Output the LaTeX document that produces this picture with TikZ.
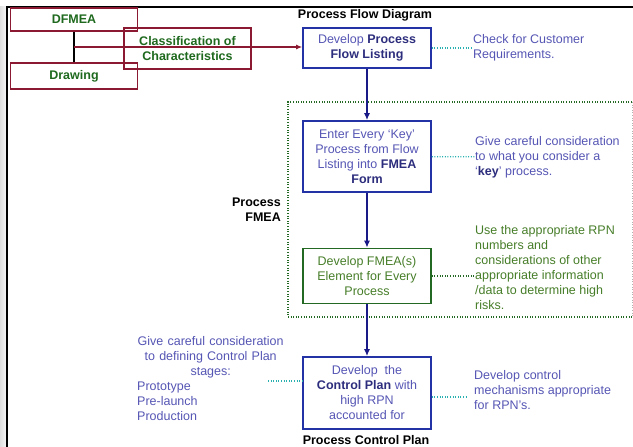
\documentclass[tikz,border=0pt]{standalone}
\usepackage{fontspec}
\setmainfont{Liberation Sans}
\usepackage{tikz}
\usetikzlibrary{positioning, calc}
\usetikzlibrary{arrows.meta}

\definecolor{frmred}{RGB}{140,25,50}
\definecolor{lblgreen}{RGB}{30,105,30}
\definecolor{boxblue}{RGB}{35,50,165}
\definecolor{txtblue}{RGB}{85,85,180}
\definecolor{boldblue}{RGB}{45,45,125}
\definecolor{dotteal}{RGB}{40,175,175}
\definecolor{boxgreen}{RGB}{35,105,35}
\definecolor{txtgreen}{RGB}{70,125,40}
\definecolor{arrblue}{RGB}{25,25,135}

\begin{document}
\begin{tikzpicture}[x=1pt,y=-1pt,
  every node/.style={font=\fontsize{12.5}{15}\selectfont, inner sep=0pt},
  redbox/.style={draw=frmred, line width=1.4pt, text=lblgreen, font=\fontsize{12.5}{15}\selectfont\bfseries, align=center, minimum width=127pt},
  flowbox/.style={draw=boxblue, line width=1.6pt, text=txtblue, align=center, minimum width=128pt},
  sidenote/.style={text=txtblue, align=left, anchor=west},
  headlbl/.style={font=\fontsize{12.5}{15}\selectfont\bfseries},
  flowarrow/.style={draw=arrblue, line width=1.6pt, -{Latex[length=7pt,width=6pt]}},
  tealdot/.style={draw=dotteal, line width=1.3pt, dash pattern=on 1pt off 1.6pt},
  greendot/.style={draw=boxgreen, line width=1.3pt, dash pattern=on 1pt off 1.6pt}]
    \useasboundingbox (0,0) rectangle (633,447);
    \fill[left color=gray!25, right color=gray!8] (0,6) rectangle (6,447);
    \draw[line width=2pt] (633,7) -- (7,7) -- (7,447);
    % design inputs
    \node[redbox, minimum height=23pt] (dfmea) at (74,19.5) {DFMEA};
    \node[redbox, minimum height=26pt] (drawing) at (74,76) {Drawing};
    \node[redbox, minimum height=41pt] (classif) at (187.5,48.5) {Classification of\\Characteristics};
    \draw[line width=1.6pt] (dfmea) -- (drawing);
    \coordinate (split) at ($(dfmea.south)!0.5!(drawing.north)$);
    % process flow
    \node[headlbl] (pfdtitle) at (365,15) {Process Flow Diagram};
    \node[flowbox, minimum height=40pt] (pfl) at (367,48) {Develop {\color{boldblue}\bfseries Process}\\{\color{boldblue}\bfseries Flow Listing}};
    \draw[frmred, line width=1.3pt, -{Latex[length=6pt,width=5pt]}] (split) -- (split -| pfl.west);
    \node[sidenote] (custnote) at (473,48) {Check for Customer\\Requirements.};
    \draw[tealdot] (pfl) -- (custnote);
    % process FMEA
    \draw[greendot] (632,102) -- (288,102) -- (288,317) -- (632,317);
    \draw[draw=gray!60, line width=1pt, dash pattern=on 1pt off 1.6pt] (632,102) -- (632,317);
    \node[headlbl, align=right, anchor=east] (pfmea) at (281,210) {Process\\FMEA};
    \node[flowbox, minimum height=71pt] (enter) at (367,156.5) {Enter Every ‘Key’\\Process from Flow\\Listing into {\color{boldblue}\bfseries FMEA}\\{\color{boldblue}\bfseries Form}};
    \node[sidenote] (keynote) at (475,157) {Give careful consideration\\to what you consider a\\‘{\color{boldblue}\bfseries key}’ process.};
    \draw[tealdot] (enter) -- (keynote);
    \node[flowbox, draw=boxgreen, text=txtgreen, minimum height=55pt] (elem) at (367,276) {Develop FMEA(s)\\Element for Every\\Process};
    \node[sidenote, text=txtgreen] (rpnnote) at (475,268) {Use the appropriate RPN\\numbers and\\considerations of other\\appropriate information\\/data to determine high\\risks.};
    \draw[greendot] (elem.east) -- (elem.east -| rpnnote.west);
    % control plan
    \node[flowbox, minimum height=72pt] (ctrl) at (367,393) {Develop\ \ the\\{\color{boldblue}\bfseries Control Plan} with\\high RPN\\accounted for};
    \node[headlbl] (pcptitle) at (366,440) {Process Control Plan};
    \node[sidenote] (ctrlnote) at (474,390) {Develop control\\mechanisms appropriate\\for RPN’s.};
    \coordinate (ctrlend) at (468,397);
    \draw[tealdot] (ctrl.east |- ctrlend) -- (ctrlend);
    \node[sidenote, text width=147pt] (stagenote) at (137,379) {\centering Give careful consideration\\to defining Control Plan\\stages:\par\raggedright Prototype\\Pre-launch\\Production};
    \coordinate (stageend) at (268,381);
    \draw[tealdot] (stageend) -- (ctrl.west |- stageend);
    % flow arrows
    \draw[flowarrow] (pfl) -- (enter);
    \draw[flowarrow] (enter) -- (elem);
    \draw[flowarrow] (elem) -- (ctrl);
\end{tikzpicture}
\end{document}
